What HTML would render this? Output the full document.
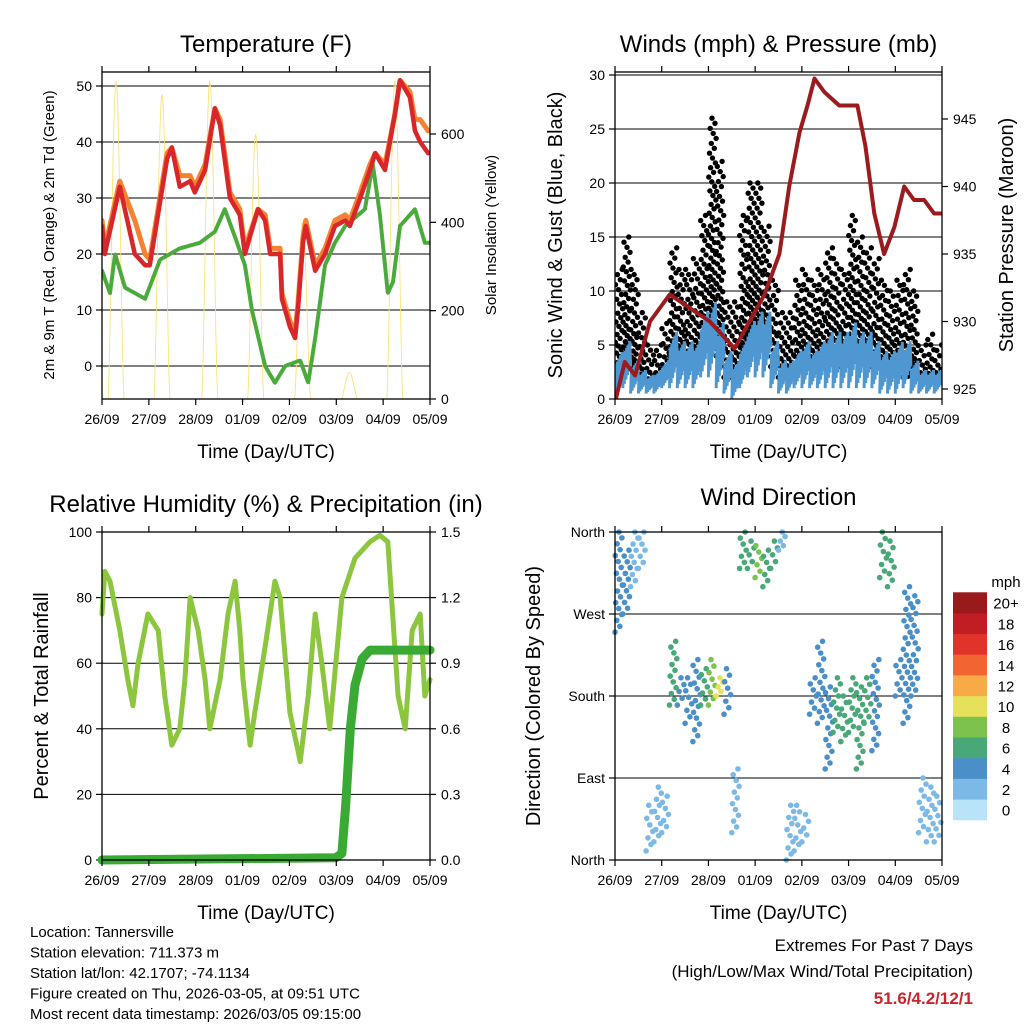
<!DOCTYPE html>
<html><head><meta charset="utf-8"><style>
body{margin:0;background:#fff}
svg{display:block;font-family:"Liberation Sans",Arial,sans-serif}
</style></head><body>
<svg id="chart" width="1024" height="1024" viewBox="0 0 1024 1024"></svg>
<script>
// ---------- DATA ----------
const dayLabels = ["26/09","27/09","28/09","01/09","02/09","03/09","04/09","05/09"];
// Temperature panel
const tempTimes = [0,.06,.38,.7,.92,1.02,1.39,1.49,1.66,1.88,1.98,2.2,2.41,2.52,2.73,2.94,3.05,3.33,3.48,3.59,3.8,3.84,4.01,4.12,4.18,4.29,4.35,4.55,4.76,4.97,5.19,5.29,5.51,5.72,5.83,6.04,6.25,6.36,6.57,6.68,6.79,6.96];
const tempRed = [25,20,32,20,18,18,37,39,32,33,31,35,46,43,30,27,20,28,26,20,20,12,7,5,10,22,25,17,20,25,26,25,30,35,38,35,45,51,48,42,40,38];
const tempOrange = [26,21,33,26,20,19,38,39,34,34,32,36,46,44,31,28,21,28,27,21,21,13,8,6,11,23,26,18,21,26,27,26,31,36,38,36,45,51,49,44,44,42];
const dewTimes = [0,.17,.28,.49,.92,1.24,1.66,2.09,2.41,2.62,2.84,3.05,3.2,3.48,3.69,3.91,4.23,4.4,4.55,4.76,4.97,5.19,5.61,5.78,5.93,6.1,6.21,6.36,6.68,6.89,7];
const dewGreen = [17,13,20,14,12,19,21,22,24,28,23,18,10,0,-3,0,1,-3,5,18,22,25,28,36,27,13,15,25,28,22,22];
const solarNoon = [0.3,1.28,2.3,3.28,4.28,5.28,6.25];
const solarPeak = [720,690,720,600,400,60,720];
const tempTicks = [0,10,20,30,40,50];
const solarTicks = [0,200,400,600];
// Winds panel (4-hour bins)
const gustLo = [2,4,3,2,1.5,2,2,4,4,3,4,5,6,4,2,2,4,6,6,5,3,2,2,3,3,3,3,4,4,3,4,4,4,3,3,3,3,2,3,2,2,2];
const gustHi = [12,15,12,8,5,5,7,14,12,12,13,17,26,22,9,9,17,20,20,16,11,8,8,11,12,11,12,14,13,12,17,15,14,13,11,10,11,12,10,5,6,5];
const windLo = [0,1,.5,.5,.5,.5,1,1,1,1,1,2,2,1,.5,0,1,2,2,2,1,.5,.5,1,1,1,1,1,1,1,1,1,1,1,.5,.5,.5,1,.5,.5,.5,.5];
const windHi = [5,6,4,3,2.5,3,4,7,6,6,6,9,10,8,5,4,6,8,9,9,6,4,4,5,6,5,6,7,7,7,8,7,7,6,5,5,6,6,4,3,3,3];
const presTimes = [0,.21,.43,.75,1.17,1.6,2.03,2.56,2.88,3.2,3.52,3.73,3.95,4.12,4.27,4.48,4.8,5.19,5.36,5.55,5.76,5.98,6.19,6.4,6.62,6.83,6.98];
const presVals = [924,927,926,930,932,931,930,928,930,932,935,940,944,946,948,947,946,946,943,938,935,937,940,939,939,938,938];
const windTicks = [0,5,10,15,20,25,30];
const presTicks = [925,930,935,940,945];
// RH panel
const rhTimes = [0,.06,.17,.38,.55,.66,.77,.98,1.2,1.34,1.49,1.66,1.77,1.88,2.05,2.2,2.3,2.52,2.69,2.84,2.94,3.01,3.16,3.26,3.48,3.69,3.8,4.01,4.23,4.4,4.55,4.69,4.86,4.99,5.12,5.4,5.72,5.93,6.1,6.32,6.47,6.62,6.79,6.89,7];
const rhVals = [75,88,85,70,55,47,60,75,70,50,35,40,55,80,70,55,40,55,75,85,70,55,35,45,65,85,80,45,30,50,75,60,40,60,80,92,97,99,97,50,40,70,75,50,55];
const precipTimes = [0,4.99,5.12,5.2,5.3,5.4,5.55,5.72,7];
const precipVals = [0,0.01,0.03,0.25,0.6,0.8,0.92,0.96,0.96];
const rhTicks = [0,20,40,60,80,100];
const precipTicks = [0.0,0.3,0.6,0.9,1.2,1.5];
// Wind direction panel (4-hour bins, degrees)
const dirLo = [250,270,300,320,10,20,30,170,170,150,130,170,170,180,160,30,320,320,310,300,320,340,0,10,20,160,150,100,140,130,140,100,150,120,310,300,180,150,180,30,20,20];
const dirHi = [360,340,360,360,60,80,70,240,200,200,220,210,220,200,210,100,360,350,345,340,350,360,60,60,50,200,240,190,200,180,200,190,200,220,360,350,220,300,290,90,80,70];
const dirSpeed = [3,3,2,2,2,2,2,5,4,4,4,6,8,10,4,2,5,6,8,6,5,2,2,2,2,4,4,4,5,5,6,5,5,3,5,5,3,3,3,2,2,2];
const speedLabels = ["0","2","4","6","8","10","12","14","16","18","20+"];
const speedColors = ["#b8e3f8","#7db9e6","#4a8fc8","#48a877","#7cc24c","#e6e05a","#f8aa46","#f26430","#e0342a","#c01e24","#9a1a1c"];

// ---------- HELPERS ----------
const NS="http://www.w3.org/2000/svg";
const svg=document.getElementById('chart');
function mk(tag,attrs,parent){const e=document.createElementNS(NS,tag);for(const k in attrs)e.setAttribute(k,attrs[k]);(parent||svg).appendChild(e);return e;}
function txt(s,x,y,size,anchor,parent,extra){const t=mk('text',Object.assign({x:x,y:y,'font-size':size,'text-anchor':anchor||'middle',fill:'#000'},extra||{}),parent);t.textContent=s;return t;}
function lin(d0,d1,r0,r1){return v=>r0+(v-d0)/(d1-d0)*(r1-r0);}

function panel(name,x0,x1,y0,y1){
  const g=mk('g',{});
  
  
  const xs=lin(0,7,x0,x1);
  return {g,xs,x0,x1,y0,y1};
}
function frame(p,title,titleY,xTitle){
  const {g,xs,x0,x1,y0,y1}=p;
  const r=mk('rect',{x:x0,y:y0,width:x1-x0,height:y1-y0,fill:'none',stroke:'#000','stroke-width':1.3},g);
  
  
  dayLabels.forEach((l,i)=>{
    const x=xs(i);
    mk('line',{x1:x,x2:x,y1:y1,y2:y1+6,stroke:'#000','stroke-width':1.2},g);
    mk('line',{x1:x,x2:x,y1:y0,y2:y0-6,stroke:'#000','stroke-width':1.2},g);
    const t=txt(l,x,y1+25,14,'middle',g);
    
    
  });
  const tt=txt(title,(x0+x1)/2,titleY,24,'middle',g);
  
  
  const xt=txt(xTitle,(x0+x1)/2,y1+59,19,'middle',g);
  
  
}
function leftAxis(p,ticks,ys,fmt,grid){
  ticks.forEach(v=>{
    const y=ys(v);
    if(grid) mk('line',{x1:p.x0,x2:p.x1,y1:y,y2:y,stroke:'#000','stroke-width':1},p.g);
    mk('line',{x1:p.x0-6,x2:p.x0,y1:y,y2:y,stroke:'#000','stroke-width':1.2},p.g);
    const t=txt(fmt(v),p.x0-10,y+5,14,'end',p.g);
    
    
  });
}
function rightAxis(p,ticks,ys,fmt){
  ticks.forEach(v=>{
    const y=ys(v);
    mk('line',{x1:p.x1,x2:p.x1+6,y1:y,y2:y,stroke:'#000','stroke-width':1.2},p.g);
    const t=txt(fmt(v),p.x1+11,y+5,14,'start',p.g);
    
    
  });
}
function vlabel(s,x,y,size,g,name){
  const t=txt(s,0,0,size,'middle',g,{transform:`translate(${x},${y}) rotate(-90)`});
  
  
}
function poly(times,vals,xs,ys,attrs,g,name){
  const pts=times.map((t,i)=>xs(t).toFixed(1)+','+ys(vals[i]).toFixed(1)).join(' ');
  const l=mk('polyline',Object.assign({points:pts,fill:'none','stroke-linejoin':'round','stroke-linecap':'round'},attrs),g);
  
  
  return l;
}

// ---------- TEMPERATURE ----------
{
  const p=panel('temperature-panel',102,430,72,399);
  const ys=lin(0,50,366,86), ys2=lin(0,600,399,134);
  leftAxis(p,tempTicks,ys,v=>String(v),true);
  rightAxis(p,solarTicks,ys2,v=>String(v));
  const cp=mk('clipPath',{id:'c1'},p.g);mk('rect',{x:102,y:72,width:328,height:327},cp);
  const cg=mk('g',{'clip-path':'url(#c1)'},p.g);
  solarNoon.forEach((c,i)=>{
    const pts=[];
    for(let k=0;k<=20;k++){const f=k/20;const t=c-0.17+0.34*f;const v=solarPeak[i]*Math.pow(Math.sin(Math.PI*f),1.5);pts.push(p.xs(t).toFixed(1)+','+ys2(v).toFixed(1));}
    const l=mk('polyline',{points:pts.join(' '),fill:'none',stroke:'#fae27a','stroke-width':0.9},cg);
    
    
  });
  poly(dewTimes,dewGreen,p.xs,ys,{stroke:'#4aab3c','stroke-width':4,'stroke-dasharray':'2.5 1.5'},cg,'dewpoint-2m-line');
  poly(tempTimes,tempOrange,p.xs,ys,{stroke:'#f58230','stroke-width':5},cg,'temp-9m-line');
  poly(tempTimes,tempRed,p.xs,ys,{stroke:'#d8262a','stroke-width':4.5},cg,'temp-2m-line');
  frame(p,'Temperature (F)',52,'Time (Day/UTC)');
  vlabel('2m & 9m T (Red, Orange) & 2m Td (Green)',54,235,15,p.g,'y-axis-title');
  vlabel('Solar Insolation (Yellow)',496,235,15,p.g,'y2-axis-title');
}
// ---------- WINDS ----------
{
  const p=panel('winds-panel',615,942,72,399);
  const ys=lin(0,30,399,75), ys2=lin(925,945,389,119);
  leftAxis(p,windTicks,ys,v=>String(v),true);
  rightAxis(p,presTicks,ys2,v=>String(v));
  const cp=mk('clipPath',{id:'c2'},p.g);mk('rect',{x:615,y:72,width:327,height:327},cp);
  const cg=mk('g',{'clip-path':'url(#c2)'},p.g);
  const bw=7/gustLo.length;
  gustLo.forEach((lo,i)=>{
    const hi=gustHi[i];
    const n=Math.max(8,Math.round((hi-lo)*3));
    for(let k=0;k<n;k++){
      const v=lo+(hi-lo)*Math.pow(k/(n-1),1.4);
      const t=bw*i+bw*((k*0.618)%1);
      const c=mk('circle',{cx:p.xs(t).toFixed(1),cy:ys(v).toFixed(1),r:2.7,fill:'#000'},cg);
      
      
    }
  });
  windLo.forEach((lo,i)=>{
    const pts=[];
    const m=10;
    for(let k=0;k<=m;k++){
      const t=bw*i+bw*k/m;
      const v=(k%2===0)?lo+(windHi[i]-lo)*((k*0.29)%0.5):windHi[i]-(windHi[i]-lo)*((k*0.37)%0.4);
      pts.push(p.xs(t).toFixed(1)+','+ys(v).toFixed(1));
    }
    const l=mk('polyline',{points:pts.join(' '),fill:'none',stroke:'#4f97d0','stroke-width':3},cg);
    
    
  });
  poly(presTimes,presVals,p.xs,ys2,{stroke:'#9b1b1e','stroke-width':4},cg,'station-pressure-line');
  frame(p,'Winds (mph) & Pressure (mb)',52,'Time (Day/UTC)');
  vlabel('Sonic Wind & Gust (Blue, Black)',562,235,20,p.g,'y-axis-title');
  vlabel('Station Pressure (Maroon)',1013,235,20,p.g,'y2-axis-title');
}
// ---------- RH ----------
{
  const p=panel('humidity-precip-panel',102,430,532,860);
  const ys=lin(0,100,860,532), ys2=lin(0,1.5,860,532);
  leftAxis(p,rhTicks,ys,v=>String(v),true);
  rightAxis(p,precipTicks,ys2,v=>v.toFixed(1));
  const cp=mk('clipPath',{id:'c3'},p.g);mk('rect',{x:96,y:532,width:340,height:334},cp);
  const cg=mk('g',{'clip-path':'url(#c3)'},p.g);
  poly(rhTimes,rhVals,p.xs,ys,{stroke:'#8cc63f','stroke-width':5},cg,'relative-humidity-line');
  poly(precipTimes,precipVals,p.xs,ys2,{stroke:'#3aaa35','stroke-width':9},cg,'total-rainfall-line');
  frame(p,'Relative Humidity (%) & Precipitation (in)',512,'Time (Day/UTC)');
  vlabel('Percent & Total Rainfall',48,696,20,p.g,'y-axis-title');
}
// ---------- WIND DIRECTION ----------
{
  const p=panel('wind-direction-panel',615,942,532,860);
  const ys=lin(0,360,860,532);
  const dTicks=[0,90,180,270,360], dNames=['North','East','South','West','North'];
  dTicks.forEach((v,i)=>{
    const y=ys(v);
    mk('line',{x1:p.x0,x2:p.x1,y1:y,y2:y,stroke:'#000','stroke-width':1},p.g);
    mk('line',{x1:p.x0-6,x2:p.x0,y1:y,y2:y,stroke:'#000','stroke-width':1.2},p.g);
    const t=txt(dNames[i],p.x0-10,y+5,14,'end',p.g);
    
    
  });
  const bw=7/dirLo.length;
  dirLo.forEach((lo,i)=>{
    const hi=dirHi[i];
    const n=Math.max(5,Math.round((hi-lo)/6));
    const col=speedColors[Math.min(10,Math.round(dirSpeed[i]/2))];
    for(let k=0;k<n;k++){
      const v=lo+(hi-lo)*k/(n-1);
      const t=bw*i+bw*((k*0.618)%1);
      const c=mk('circle',{cx:p.xs(t).toFixed(1),cy:ys(v).toFixed(1),r:2.8,fill:col},p.g);
      
      
    }
  });
  frame(p,'Wind Direction',505,'Time (Day/UTC)');
  vlabel('Direction (Colored By Speed)',540,696,20,p.g,'y-axis-title');
  const cb=mk('g',{});
  
  
  const bh=20.7;
  speedColors.forEach((c,i)=>{
    const y=820-(i+1)*bh;
    const r=mk('rect',{x:953,y:y.toFixed(1),width:34,height:bh+0.3,fill:c},cb);
    
    
    const t=txt(speedLabels[i],1006,y+bh/2+6,15,'middle',cb);
    
    
  });
  const u=txt('mph',1006,587,15,'middle',cb);
  
  
}
// ---------- FOOTER ----------
{
  const f=mk('g',{});
  
  
  const lines=['Location: Tannersville','Station elevation: 711.373 m','Station lat/lon: 42.1707; -74.1134','Figure created on Thu, 2026-03-05, at 09:51 UTC','Most recent data timestamp: 2026/03/05 09:15:00'];
  lines.forEach((s,i)=>{const t=txt(s,30,937+i*20.5,15,'start',f);});
  const e=mk('g',{});
  
  
  let t=txt('Extremes For Past 7 Days',973,951,17,'end',e);
  t=txt('(High/Low/Max Wind/Total Precipitation)',973,977,17,'end',e);
  t=txt('51.6/4.2/12/1',973,1004,17,'end',e,{fill:'#c8262c','font-weight':'bold'});
}
</script>
</body></html>
